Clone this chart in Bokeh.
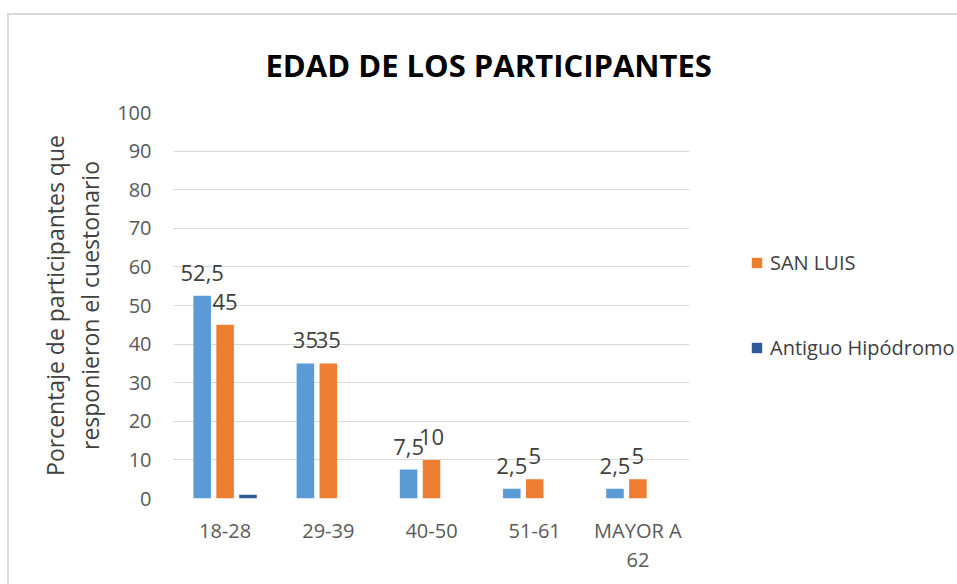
from bokeh.plotting import figure
from bokeh.models import Range1d, FixedTicker, Legend, LegendItem, ColumnDataSource
from bokeh.transform import dodge
from bokeh.core.properties import value
from bokeh.embed import file_html
from bokeh.resources import INLINE

categories = ["18-28", "29-39", "40-50", "51-61", "MAYOR A\n62"]
serie_1 = [52.5, 35, 7.5, 2.5, 2.5]
san_luis = [45, 35, 10, 5, 5]
antiguo = [1, 0, 0, 0, 0]
y_ticks = [0, 10, 20, 30, 40, 50, 60, 70, 80, 90, 100]
title_text = "EDAD DE LOS PARTICIPANTES"
y_label = "Porcentaje de participantes que\nresponieron el cuestonario"

FONT = "Open Sans"
C1 = "#5B9BD5"
C2 = "#ED7D31"
C3 = "#2E5A98"


def fmt(v):
    return f"{v:g}".replace(".", ",")


src = ColumnDataSource(dict(
    cat=categories,
    s1=serie_1,
    s2=san_luis,
    s3=antiguo,
    l1=[fmt(v) for v in serie_1],
    l2=[fmt(v) for v in san_luis],
))

p = figure(
    x_range=categories,
    y_range=Range1d(0, 100),
    frame_width=516,
    frame_height=386,
    min_border_left=164,
    min_border_right=268,
    min_border_top=97,
    min_border_bottom=86,
    output_backend="svg",
    toolbar_location=None,
)
p.styles = {"margin-top": "13px", "margin-left": "7px",
            "border-top": "2px solid #d9d9d9", "border-left": "2px solid #d9d9d9"}
p.outline_line_color = None
p.background_fill_color = "white"
p.border_fill_color = "white"

p.title.text = title_text
p.title.align = "left"
p.title.vertical_align = "top"
p.title.offset = 92
p.title.standoff = 50
p.title.text_font = FONT
p.title.text_font_size = "31px"
p.title.text_font_style = "bold"
p.title.text_color = "#000000"

off = 0.222
w = 0.17
r1 = p.vbar(x=dodge("cat", -off, range=p.x_range), top="s1", width=w, source=src,
            fill_color=C1, line_color=None)
r2 = p.vbar(x=dodge("cat", 0, range=p.x_range), top="s2", width=w, source=src,
            fill_color=C2, line_color=None)
r3 = p.vbar(x=dodge("cat", off, range=p.x_range), top="s3", width=w, source=src,
            fill_color=C3, line_color=None)

p.text(x=dodge("cat", -off, range=p.x_range), y="s1", text="l1", source=src,
       text_font=value(FONT), text_font_size="22px", text_color="#404040",
       text_align="center", text_baseline="bottom", y_offset=-15)
p.text(x=dodge("cat", 0, range=p.x_range), y="s2", text="l2", source=src,
       text_font=value(FONT), text_font_size="22px", text_color="#404040",
       text_align="center", text_baseline="bottom", y_offset=-15)

# axes
p.yaxis.ticker = FixedTicker(ticks=y_ticks)
p.ygrid.ticker = FixedTicker(ticks=y_ticks)
p.ygrid.grid_line_color = "#d9d9d9"
p.xgrid.grid_line_color = None
for ax in (p.xaxis, p.yaxis):
    ax.axis_line_color = None
    ax.major_tick_line_color = None
    ax.minor_tick_line_color = None
    ax.major_label_text_font = FONT
    ax.major_label_text_font_size = "20px"
    ax.major_label_text_color = "#595959"
p.yaxis.major_label_standoff = 16
p.xaxis.major_label_standoff = 12
p.xaxis.major_label_text_line_height = 1.1
p.yaxis.axis_label = y_label
p.yaxis.axis_label_text_font = FONT
p.yaxis.axis_label_text_font_size = "23px"
p.yaxis.axis_label_text_font_style = "normal"
p.yaxis.axis_label_text_color = "#404040"
p.yaxis.axis_label_text_line_height = 1.1
p.yaxis.axis_label_standoff = 8

# legend (right panel)
lg = Legend(items=[LegendItem(label="SAN LUIS", renderers=[r2]),
                   LegendItem(label="Antiguo Hipódromo", renderers=[r3])],
            location=(61, 137), spacing=58,
            padding=0, margin=0, border_line_alpha=0, background_fill_alpha=0,
            glyph_width=13, glyph_height=13, label_standoff=7,
            label_text_font=FONT, label_text_font_size="20px", label_text_color="#404040")
p.add_layout(lg, "right")

open("out.html", "w").write(file_html(p, INLINE))
